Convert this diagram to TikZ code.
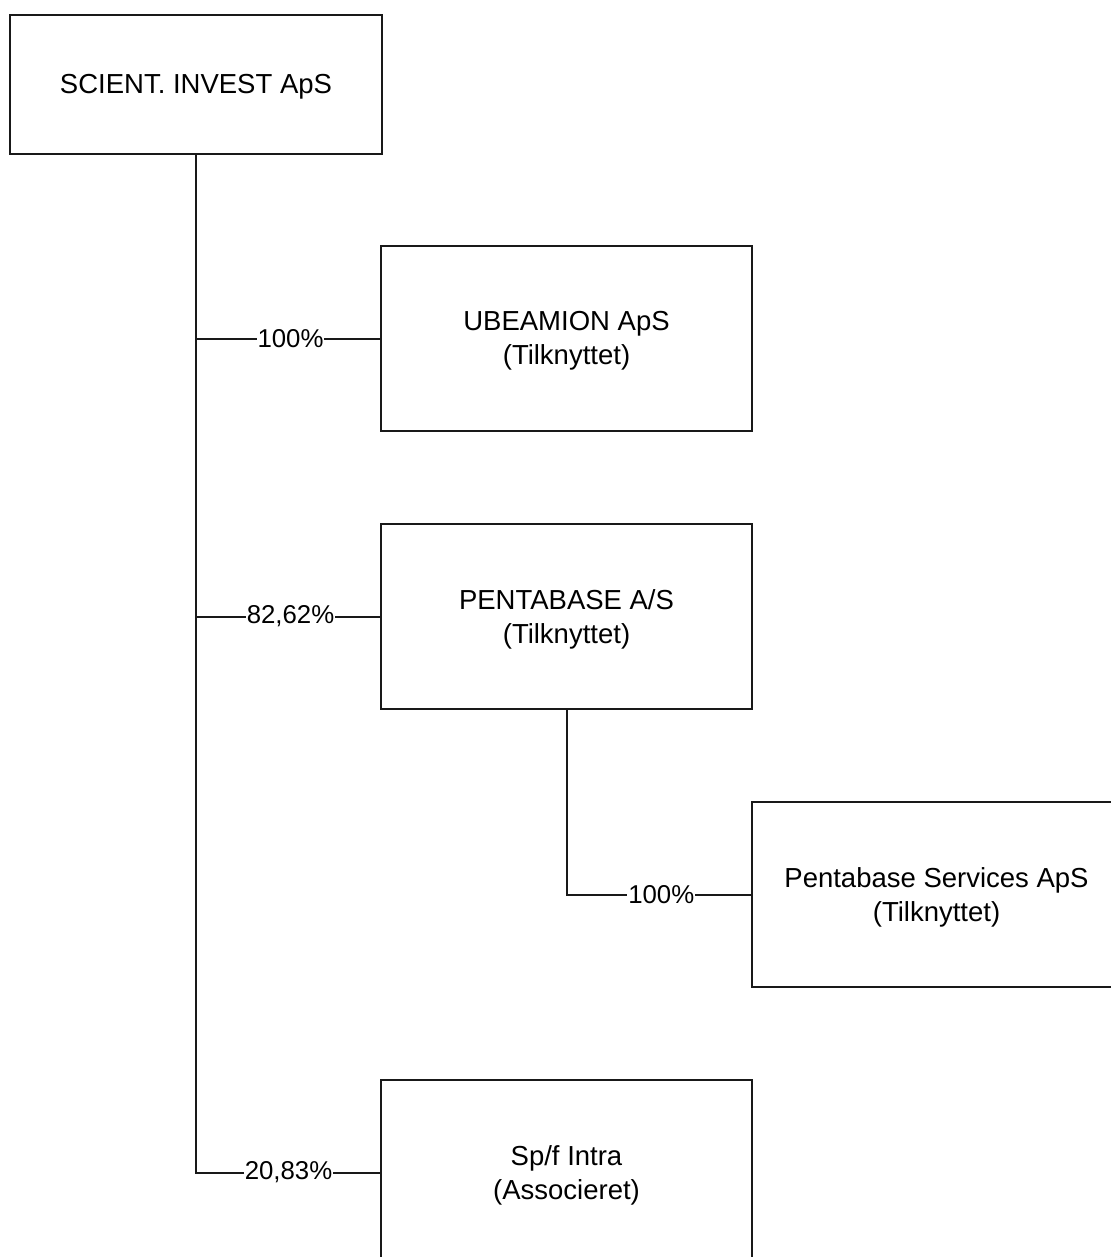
\documentclass[tikz,border=0pt]{standalone}
\usepackage{fontspec}
\setmainfont{Liberation Sans}
\begin{document}
\begin{tikzpicture}[x=1pt,y=-1pt,
  box/.style={draw=black!90,line width=2pt,fill=white,minimum width=371pt,minimum height=185pt,
    inner sep=0pt,outer sep=0pt},
  txt/.style={align=center,inner sep=0pt,font=\fontsize{27.5}{34}\selectfont},
  link/.style={draw=black!90,line width=2pt},
  pct/.style={fill=white,inner sep=1pt,font=\fontsize{25.8}{30}\selectfont}]
\useasboundingbox (0,0) rectangle (1110,1257);
\node[box,minimum width=372pt,minimum height=139pt] (sci) at (196,84.5) {};
\node[box] (ube) at (566.5,338.5) {};
\node[box] (pen) at (566.5,616.5) {};
\node[box] (srv) at (937.5,894.5) {};
\node[box] (intra) at (566.5,1172.5) {};
\node[txt] (scit) at ([yshift=-2.5pt]sci.center) {SCIENT. INVEST ApS};
\node[txt] (ubet) at ([yshift=-2.5pt]ube.center) {UBEAMION ApS\\(Tilknyttet)};
\node[txt] (pent) at ([yshift=-2.5pt]pen.center) {PENTABASE A/S\\(Tilknyttet)};
\node[txt] (srvt) at ([xshift=-1pt,yshift=-2.5pt]srv.center) {Pentabase Services ApS\\(Tilknyttet)};
\node[txt] (intrat) at ([yshift=-2.5pt]intra.center) {Sp/f Intra\\(Associeret)};
\draw[link] (sci.south) |- (intra.west) node[pos=0.75,pct]{20,83\%};
\draw[link] (sci.south) |- (pen.west) node[pos=0.75,pct,xshift=2pt]{82,62\%};
\draw[link] (sci.south) |- (ube.west) node[pos=0.75,pct,xshift=2pt]{100\%};
\draw[link] (pen.south) |- (srv.west) node[pos=0.75,pct,xshift=2pt]{100\%};
\end{tikzpicture}
\end{document}
